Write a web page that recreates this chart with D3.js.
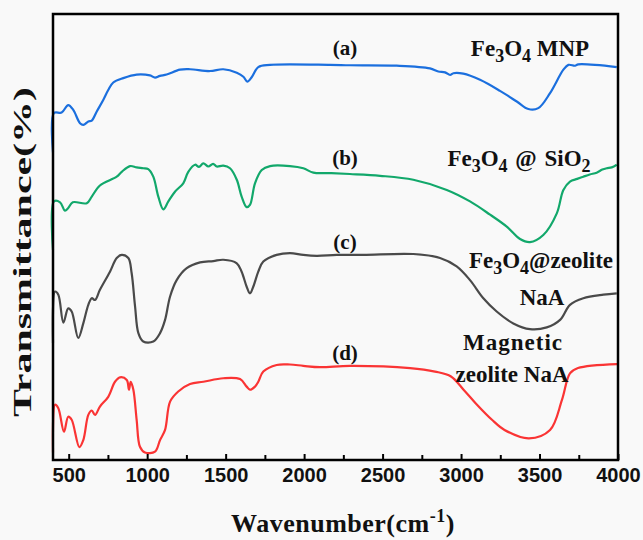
<!DOCTYPE html>
<html>
<head>
<meta charset="utf-8">
<script src="https://cdn.jsdelivr.net/npm/d3@7"></script>
<style>
  body { margin: 0; background: #f9f9f9; }
  svg { display: block; font-family: "Liberation Serif", "DejaVu Serif", serif; }
  .tick text { font-weight: bold; font-size: 20px; }
  .lbl { font-weight: bold; fill: #111; }
</style>
</head>
<body>
<div id="chart"></div>
<script>
// FTIR spectra, values (stacked with offsets)
const waveA = [400, 406, 455, 497, 529, 572, 593, 625, 647, 678, 721, 752, 784, 848, 933, 1018, 1050, 1081, 1124, 1209, 1273, 1400, 1485, 1571, 1613, 1638, 1666, 1708, 1783, 2165, 2292, 2590, 2802, 2855, 2898, 2930, 2951, 3014, 3121, 3248, 3355, 3429, 3492, 3567, 3652, 3684, 3726, 3747, 3992];
const transA = [68.9, 77.8, 77.9, 79.6, 78.5, 75.5, 75.1, 75.9, 76.1, 78.1, 80.8, 83.0, 84.7, 85.7, 86.5, 86.3, 85.8, 86.2, 86.5, 87.6, 87.7, 87.3, 87.7, 86.9, 86.0, 84.9, 85.9, 88.2, 88.7, 88.7, 88.6, 88.5, 87.9, 87.2, 87.0, 86.4, 86.8, 86.7, 85.3, 82.8, 80.4, 78.7, 78.9, 82.3, 87.6, 88.7, 88.5, 88.8, 88.2];

const waveB = [400, 406, 445, 476, 497, 526, 615, 647, 699, 806, 838, 891, 933, 975, 1007, 1039, 1071, 1103, 1135, 1177, 1230, 1262, 1305, 1330, 1358, 1390, 1420, 1443, 1485, 1528, 1571, 1602, 1634, 1655, 1687, 1730, 1783, 1910, 1995, 2059, 2165, 2292, 2484, 2696, 2909, 3057, 3185, 3291, 3376, 3439, 3524, 3610, 3652, 3694, 3740, 3779, 3820, 3864, 3900, 3928, 3960, 3992];
const transB = [46.8, 57.8, 57.6, 55.7, 56.3, 57.6, 57.4, 58.9, 61.4, 63.4, 64.5, 65.8, 65.5, 65.3, 65.1, 63.4, 58.9, 56.0, 57.8, 60.0, 61.9, 64.5, 66.1, 65.6, 66.4, 65.7, 66.3, 65.7, 65.9, 65.3, 62.7, 58.9, 56.5, 57.0, 61.9, 64.9, 65.8, 65.8, 65.3, 64.3, 64.2, 64.0, 63.6, 62.7, 60.4, 57.8, 54.8, 52.1, 49.3, 48.6, 50.2, 55.1, 60.4, 62.3, 62.9, 63.4, 63.9, 64.3, 65.0, 65.3, 65.5, 66.1];

const waveC = [400, 413, 434, 466, 497, 519, 561, 593, 625, 647, 668, 699, 763, 806, 838, 880, 901, 923, 944, 975, 1039, 1082, 1114, 1146, 1188, 1252, 1337, 1421, 1485, 1571, 1602, 1634, 1655, 1676, 1708, 1740, 1825, 1910, 1995, 2080, 2208, 2377, 2696, 2866, 2972, 3057, 3142, 3227, 3333, 3439, 3546, 3631, 3694, 3779, 3907, 3992];
const transC = [25.8, 37.4, 36.7, 30.4, 33.6, 32.9, 26.9, 30.2, 34.4, 35.9, 35.5, 37.8, 41.9, 45.0, 45.7, 45.0, 41.6, 34.0, 28.0, 26.1, 26.1, 28.0, 31.0, 36.3, 40.0, 42.7, 44.0, 44.3, 44.6, 43.8, 41.9, 38.5, 37.0, 38.5, 41.9, 44.2, 45.7, 46.1, 45.7, 45.5, 45.7, 45.7, 45.9, 45.0, 43.1, 40.0, 35.9, 32.9, 30.2, 28.9, 29.3, 31.0, 34.4, 35.9, 36.7, 37.0];

const waveD = [400, 413, 434, 470, 497, 519, 568, 593, 625, 647, 668, 699, 752, 795, 827, 870, 884, 895, 912, 933, 954, 986, 1050, 1082, 1114, 1146, 1198, 1273, 1358, 1485, 1592, 1634, 1655, 1687, 1708, 1740, 1825, 1910, 1995, 2101, 2292, 2675, 2834, 2936, 3016, 3094, 3197, 3277, 3433, 3567, 3643, 3694, 3745, 3994];
const transD = [1.0, 11.8, 11.0, 5.7, 9.1, 8.4, 2.2, 3.8, 9.5, 10.5, 9.5, 11.4, 13.6, 17.0, 18.0, 17.4, 15.2, 17.0, 15.2, 8.4, 2.3, 1.0, 1.2, 3.8, 6.1, 12.5, 14.8, 16.5, 17.0, 17.8, 17.6, 15.9, 15.2, 15.9, 17.0, 19.3, 20.8, 20.9, 20.6, 20.3, 20.6, 20.1, 19.3, 18.2, 15.2, 12.1, 8.4, 6.1, 4.2, 6.1, 12.9, 18.9, 20.1, 21.0];

const xMajor = [500, 1000, 1500, 2000, 2500, 3000, 3500, 4000];
const xMinor = [750, 1250, 1750, 2250, 2750, 3250, 3750];

const series = [
  { wave: waveA, trans: transA, color: '#1b6fde' },
  { wave: waveB, trans: transB, color: '#12a86b' },
  { wave: waveC, trans: transC, color: '#4a4a4a' },
  { wave: waveD, trans: transD, color: '#fa3434' }
];

const width = 643, height = 540;
const margin = { top: 14, right: 25, bottom: 80, left: 53 };
const iw = width - margin.left - margin.right,
  ih = height - margin.top - margin.bottom;

const svg = d3.select('#chart').append('svg')
  .attr('width', width)
  .attr('height', height);

const g = svg.append('g')
  .attr('transform', 'translate(' + margin.left + ',' + margin.top + ')');

const x = d3.scaleLinear().domain([400, 4000]).range([0, iw]);
const y = d3.scaleLinear().domain([-0.7, 100.2]).range([ih, 0]);

const line = d3.line()
  .x(d => x(d[0]))
  .y(d => y(d[1]))
  .curve(d3.curveCatmullRom.alpha(0.5));

series.forEach(s => {
  const pts = s.wave.map((w, i) => [w, s.trans[i]]);
  g.append('path')
    .datum(pts)
    .attr('fill', 'none')
    .attr('stroke', s.color)
    .attr('stroke-width', 2.2)
    .attr('stroke-linejoin', 'round')
    .attr('d', line);
});

// minor ticks (inward)
g.append('g')
  .attr('transform', 'translate(0,' + ih + ')')
  .call(d3.axisBottom(x).tickValues(xMinor).tickSize(-5).tickFormat(''))
  .call(a => a.select('.domain').remove())
  .selectAll('line').attr('stroke-width', 2);

// major ticks + labels
g.append('g')
  .attr('transform', 'translate(0,' + ih + ')')
  .call(d3.axisBottom(x).tickValues(xMajor).tickSize(-6).tickPadding(8).tickFormat(d3.format('d')))
  .call(a => a.select('.domain').remove())
  .call(a => a.selectAll('line').attr('stroke-width', 2))
  .selectAll('text').attr('fill', '#111');

// frame
g.append('rect')
  .attr('width', iw)
  .attr('height', ih)
  .attr('fill', 'none')
  .attr('stroke', '#000')
  .attr('stroke-width', 2.5);

// axis titles
svg.append('text')
  .attr('class', 'lbl')
  .attr('x', 343)
  .attr('y', 532)
  .attr('text-anchor', 'middle')
  .attr('font-size', 26)
  .attr('letter-spacing', 0.5)
  .html('Wavenumber(cm<tspan dy="-10" font-size="18">-1</tspan><tspan dy="10">)</tspan>');

svg.append('text')
  .attr('class', 'lbl')
  .attr('transform', 'translate(31,252) rotate(-90)')
  .attr('text-anchor', 'middle')
  .attr('font-size', 26)
  .attr('textLength', 330)
  .attr('lengthAdjust', 'spacingAndGlyphs')
  .text('Transmittance(%)');

// curve labels
const letters = [['(a)', 55], ['(b)', 165], ['(c)', 249], ['(d)', 360]];
letters.forEach(l => {
  svg.append('text').attr('class', 'lbl')
    .attr('x', 345).attr('y', l[1])
    .attr('text-anchor', 'middle')
    .attr('font-size', 21)
    .text(l[0]);
});

function sub(s) { return '<tspan dy="6" font-size="18">' + s + '</tspan><tspan dy="-6">'; }

svg.append('text').attr('class', 'lbl')
  .attr('x', 530).attr('y', 56).attr('text-anchor', 'middle').attr('font-size', 23)
  .html('Fe' + sub('3') + 'O' + sub('4') + ' MNP</tspan></tspan>');

svg.append('text').attr('class', 'lbl')
  .attr('x', 519).attr('y', 166).attr('text-anchor', 'middle').attr('font-size', 23)
  .attr('word-spacing', 2)
  .html('Fe' + sub('3') + 'O' + sub('4') + ' @ SiO' + sub('2') + '</tspan></tspan></tspan>');

svg.append('text').attr('class', 'lbl')
  .attr('x', 541).attr('y', 268).attr('text-anchor', 'middle').attr('font-size', 23)
  .html('Fe' + sub('3') + 'O' + sub('4') + '@zeolite</tspan></tspan>');

svg.append('text').attr('class', 'lbl')
  .attr('x', 542).attr('y', 305).attr('text-anchor', 'middle').attr('font-size', 23)
  .text('NaA');

svg.append('text').attr('class', 'lbl')
  .attr('x', 513).attr('y', 350).attr('text-anchor', 'middle').attr('font-size', 23)
  .attr('letter-spacing', 1)
  .text('Magnetic');

svg.append('text').attr('class', 'lbl')
  .attr('x', 512).attr('y', 382).attr('text-anchor', 'middle').attr('font-size', 23)
  .text('zeolite NaA');
</script>
</body>
</html>
